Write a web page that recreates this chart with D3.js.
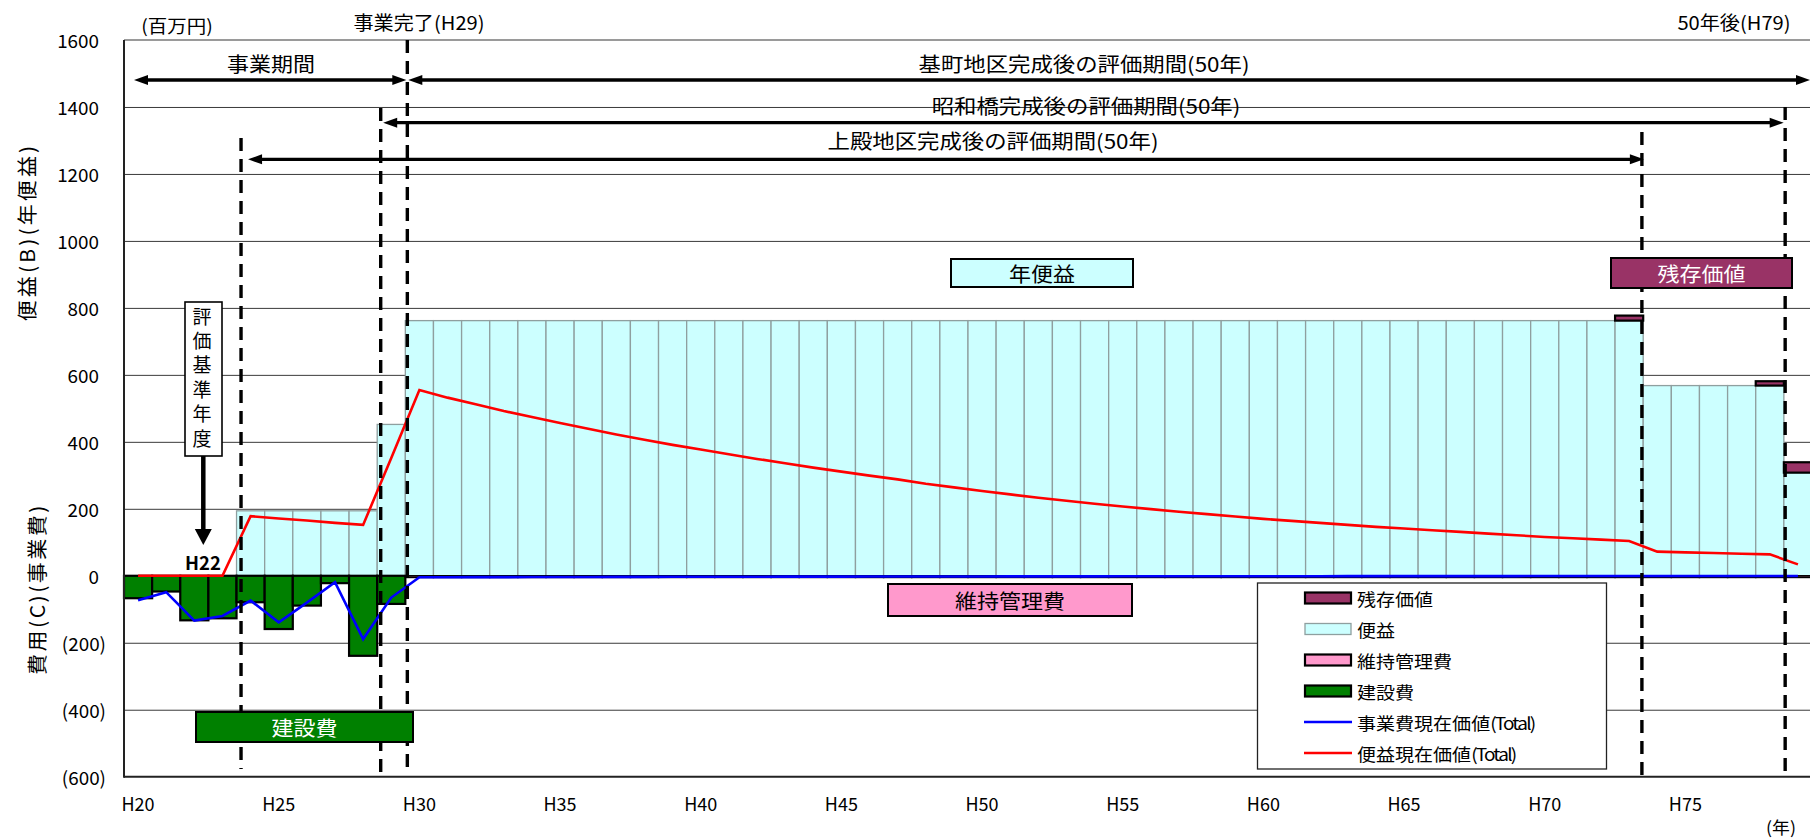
<!DOCTYPE html>
<html>
<head>
<meta charset="utf-8">
<script src="https://cdn.jsdelivr.net/npm/d3@7/dist/d3.min.js"></script>
<style>
  html, body { margin: 0; padding: 0; background: #fff; }
  svg { display: block; }
  text { font-family: "Noto Sans CJK JP", "Noto Sans", sans-serif; }
</style>
</head>
<body>
<svg id="chart" width="1810" height="838"></svg>
<script>
// ---- data (百万円) -------------------------------------------------------
const years = [
  "H20","H21","H22","H23","H24","H25","H26","H27","H28","H29",
  "H30","H31","H32","H33","H34","H35","H36","H37","H38","H39",
  "H40","H41","H42","H43","H44","H45","H46","H47","H48","H49",
  "H50","H51","H52","H53","H54","H55","H56","H57","H58","H59",
  "H60","H61","H62","H63","H64","H65","H66","H67","H68","H69",
  "H70","H71","H72","H73","H74","H75","H76","H77","H78","H79"
];

// 便益 (annual benefit)
const benefit = [
  0,0,0,0,194,194,194,194,194,452,
  762,762,762,762,762,762,762,762,762,762,
  762,762,762,762,762,762,762,762,762,762,
  762,762,762,762,762,762,762,762,762,762,
  762,762,762,762,762,762,762,762,762,762,
  762,762,762,762,568,568,568,568,568,308
];

// 残存価値 (residual value, stacked on the benefit)
const residual = [
  0,0,0,0,0,0,0,0,0,0,
  0,0,0,0,0,0,0,0,0,0,
  0,0,0,0,0,0,0,0,0,0,
  0,0,0,0,0,0,0,0,0,0,
  0,0,0,0,0,0,0,0,0,0,
  0,0,0,15,0,0,0,0,13,31
];

// 建設費 (construction cost)
const construction = [
  -67,-47,-133,-127,-79,-159,-89,-22,-239,-84,
  0,0,0,0,0,0,0,0,0,0,
  0,0,0,0,0,0,0,0,0,0,
  0,0,0,0,0,0,0,0,0,0,
  0,0,0,0,0,0,0,0,0,0,
  0,0,0,0,0,0,0,0,0,0
];

// 維持管理費 (maintenance cost)
const maintenance = [
  0,0,0,0,0,0,0,0,0,0,
  -5,-5,-5,-5,-5,-5,-5,-5,-5,-5,
  -5,-5,-5,-5,-5,-5,-5,-5,-5,-5,
  -5,-5,-5,-5,-5,-5,-5,-5,-5,-5,
  -5,-5,-5,-5,-5,-5,-5,-5,-5,-5,
  -5,-5,-5,-5,-5,-5,-5,-5,-5,-5
];

// 事業費現在価値 (Total)
const costPV = [
  -73,-49,-134,-120,-74,-139,-80,-19,-189,-65,
  -4.5,-4.3,-4.1,-4.0,-3.8,-3.7,-3.5,-3.4,-3.2,-3.1,
  -3.0,-2.9,-2.8,-2.6,-2.5,-2.4,-2.3,-2.2,-2.2,-2.1,
  -2.0,-1.9,-1.8,-1.7,-1.7,-1.6,-1.5,-1.5,-1.4,-1.4,
  -1.3,-1.2,-1.2,-1.1,-1.1,-1.0,-1.0,-0.9,-0.9,-0.9,
  -0.8,-0.8,-0.8,-0.7,-0.7,-0.7,-0.6,-0.6,-0.6,-0.6
];

// 便益現在価値 (Total)
const benefitPV = [
  0,0,0,0,178,171,165,158,152,352,
  555,532,512,492,474,456,439,422,406,391,
  377,363,349,336,323,311,299,288,275,264,
  253,243,233,224,215,207,199,191,184,177,
  170,164,158,152,146,141,136,131,126,121,
  116,112,108,104,72,70,68,66,64,34
];

const xTickLabels = ["H20","H25","H30","H35","H40","H45","H50","H55","H60","H65","H70","H75"];
const yTicks = [-600,-400,-200,0,200,400,600,800,1000,1200,1400,1600];

// ---- layout -------------------------------------------------------------
const svg = d3.select("#chart");
const pL = 124, pR = 1812, pT = 40, pB = 776.7;

const x = d3.scaleBand().domain(years).range([pL, pR]).padding(0);
const bw = x.bandwidth();
const cx = c => x(c) + bw / 2;
const y = d3.scaleLinear().domain([-600, 1600]).range([pB, pT]);

const rows = years.map((c, i) => ({
  c, benefit: benefit[i], residual: residual[i], construction: construction[i],
  maintenance: maintenance[i], costPV: costPV[i], benefitPV: benefitPV[i]
}));

// text helper: glyphs are drawn slightly wide, as in the original sheet;
// optional "tight" narrows the Latin runs such as "(Total)"
function txt(parent, px, py, s, o = {}) {
  const size = o.size || 19, sx = o.sx || 1.1, rot = o.rotate || 0;
  const t = parent.append("text")
    .attr("transform", `translate(${px},${py}) rotate(${rot}) scale(${sx},1)`)
    .attr("text-anchor", o.anchor || "middle")
    .attr("dominant-baseline", "central")
    .attr("fill", o.fill || "#000")
    .style("font-size", size + "px")
    .style("font-weight", o.weight || "normal");
  if (o.spacing) t.style("letter-spacing", o.spacing + "px");
  if (o.tight) {
    s.split(/([()A-Za-z0-9]+)/).filter(p => p.length).forEach(p => {
      const ts = t.append("tspan").text(p);
      if (/^[()A-Za-z0-9]+$/.test(p)) ts.style("letter-spacing", o.tight + "px");
    });
  } else {
    t.text(s);
  }
  return t;
}

// ---- gridlines ----------------------------------------------------------
const grid = svg.append("g")
  .attr("transform", `translate(${pL},0)`)
  .call(d3.axisLeft(y).tickValues(yTicks.filter(v => v > -600 && v < 1600))
    .tickSize(-(pR - pL)).tickFormat(""));
grid.select(".domain").remove();
grid.selectAll("line").attr("stroke", "#3a3a3a").attr("stroke-width", 1);

// ---- bars ---------------------------------------------------------------
const bars = svg.append("g");

bars.selectAll("rect.benefit").data(rows.filter(d => d.benefit > 0)).join("rect")
  .attr("class", "benefit")
  .attr("x", d => x(d.c)).attr("width", bw)
  .attr("y", d => y(d.benefit)).attr("height", d => y(0) - y(d.benefit))
  .attr("fill", "#CCFFFF").attr("stroke", "#8f9f9f").attr("stroke-width", 1.3);

bars.selectAll("rect.construction").data(rows.filter(d => d.construction < 0)).join("rect")
  .attr("class", "construction")
  .attr("x", d => x(d.c)).attr("width", bw)
  .attr("y", y(0)).attr("height", d => y(d.construction) - y(0))
  .attr("fill", "#008000").attr("stroke", "#000").attr("stroke-width", 2.2);

bars.selectAll("rect.maintenance").data(rows.filter(d => d.maintenance < 0)).join("rect")
  .attr("class", "maintenance")
  .attr("x", d => x(d.c)).attr("width", bw)
  .attr("y", d => y(d.construction))
  .attr("height", d => y(d.construction + d.maintenance) - y(d.construction))
  .attr("fill", "#FF99CC").attr("stroke", "#000").attr("stroke-width", 1.5);

bars.selectAll("rect.residual").data(rows.filter(d => d.residual > 0)).join("rect")
  .attr("class", "residual")
  .attr("x", d => x(d.c)).attr("width", bw)
  .attr("y", d => y(d.benefit + d.residual))
  .attr("height", d => y(d.benefit) - y(d.benefit + d.residual))
  .attr("fill", "#993366").attr("stroke", "#000").attr("stroke-width", 2.2);

// ---- present value lines -----------------------------------------------
const lineCost = d3.line().x(d => cx(d.c)).y(d => y(d.costPV));
const lineBen = d3.line().x(d => cx(d.c)).y(d => y(d.benefitPV));
svg.append("path").datum(rows).attr("d", lineCost)
  .attr("fill", "none").attr("stroke", "#0000FF").attr("stroke-width", 2.6);
svg.append("path").datum(rows).attr("d", lineBen)
  .attr("fill", "none").attr("stroke", "#FF0000").attr("stroke-width", 2.6);

// ---- frame --------------------------------------------------------------
svg.append("line").attr("x1", pL).attr("x2", 1810).attr("y1", pT).attr("y2", pT)
  .attr("stroke", "#9a9a9a").attr("stroke-width", 2);
svg.append("line").attr("x1", pL).attr("x2", 1810).attr("y1", pB).attr("y2", pB)
  .attr("stroke", "#222").attr("stroke-width", 2);
svg.append("line").attr("x1", pL).attr("x2", pL).attr("y1", pT).attr("y2", pB + 1)
  .attr("stroke", "#222").attr("stroke-width", 2);

// ---- axis labels ---------------------------------------------------------
const yl = svg.append("g");
yTicks.forEach(v => {
  const s = v < 0 ? "(" + Math.abs(v) + ")" : String(v);
  txt(yl, v < 0 ? 106 : 99, y(v), s, { size: 18.5, sx: 1.02, anchor: "end" });
});
const xl = svg.append("g");
xTickLabels.forEach(c => txt(xl, cx(c), 803, c, { size: 18, sx: 1.0 }));
txt(svg, 1781, 827, "(年)", { size: 17, sx: 1.05 });

txt(svg, 26, 232, "便益(B)(年便益)", { size: 20, sx: 1.05, rotate: -90, spacing: 3 });
txt(svg, 36, 589, "費用(C)(事業費)", { size: 20, sx: 1.05, rotate: -90, spacing: 2.4 });

txt(svg, 177, 25, "(百万円)", { size: 18, sx: 1.08 });
txt(svg, 419, 22, "事業完了(H29)", { size: 19, sx: 1.06 });
txt(svg, 1734, 22, "50年後(H79)", { size: 19, sx: 1.06 });

// ---- vertical period markers --------------------------------------------
const markers = [
  { at: "H24", dx: 4.5, y1: 138, y2: 769 },
  { at: "H29", dx: 3.5, y1: 108, y2: pB },
  { at: "H30", dx: 2, y1: pT, y2: 771 },
  { at: "H74", dx: -1.3, y1: 132, y2: pB },
  { at: "H79", dx: 1.3, y1: 107, y2: pB }
];
const mx = m => x(m.at) + m.dx;
svg.append("g").selectAll("line").data(markers).join("line")
  .attr("x1", mx).attr("x2", mx).attr("y1", d => d.y1).attr("y2", d => d.y2)
  .attr("stroke", "#000").attr("stroke-width", 3.4).attr("stroke-dasharray", "13,8");

// ---- period arrows --------------------------------------------------------
function arrow(x1, x2, yy, headL, headR) {
  const g = svg.append("g");
  const hl = 14, hw = 5;
  g.append("line").attr("x1", x1 + (headL ? hl - 1 : 0)).attr("x2", x2 - (headR ? hl - 1 : 0))
    .attr("y1", yy).attr("y2", yy).attr("stroke", "#000").attr("stroke-width", 3.3);
  if (headL) g.append("path").attr("d", `M${x1},${yy}L${x1 + hl},${yy - hw}L${x1 + hl},${yy + hw}Z`);
  if (headR) g.append("path").attr("d", `M${x2},${yy}L${x2 - hl},${yy - hw}L${x2 - hl},${yy + hw}Z`);
}
arrow(134, mx(markers[2]) - 1, 80, true, true);
arrow(mx(markers[2]) + 1, 1810, 80, true, true);
arrow(mx(markers[1]) + 2.5, mx(markers[4]) - 1.5, 122.7, true, true);
arrow(mx(markers[0]) + 7, mx(markers[3]) + 2, 159.3, true, true);

txt(svg, 271, 63, "事業期間", { size: 20, sx: 1.1 });
txt(svg, 1084, 63, "基町地区完成後の評価期間(50年)", { size: 20, sx: 1.12 });
txt(svg, 1086, 105, "昭和橋完成後の評価期間(50年)", { size: 20, sx: 1.12 });
txt(svg, 993, 140, "上殿地区完成後の評価期間(50年)", { size: 20, sx: 1.12 });

// ---- callout boxes --------------------------------------------------------
function box(x0, y0, w, h, fill, label, color, size) {
  svg.append("rect").attr("x", x0).attr("y", y0).attr("width", w).attr("height", h)
    .attr("fill", fill).attr("stroke", "#000").attr("stroke-width", 2);
  txt(svg, x0 + w / 2, y0 + h / 2, label, { size: size || 20, sx: 1.1, fill: color });
}
box(951, 259, 182, 28, "#CCFFFF", "年便益", "#000");
box(888, 584, 244, 32, "#FF99CC", "維持管理費", "#000");
box(196, 712, 217, 30, "#008000", "建設費", "#fff");
box(1611, 258, 181, 30, "#993366", "残存価値", "#fff");

// 評価基準年度 marker
svg.append("rect").attr("x", 185).attr("y", 302).attr("width", 37).attr("height", 154)
  .attr("fill", "#fff").attr("stroke", "#000").attr("stroke-width", 1.6);
"評価基準年度".split("").forEach((ch, i) => txt(svg, 202, 315 + i * 24.4, ch, { size: 19, sx: 1.0 }));
svg.append("line").attr("x1", 203.3).attr("x2", 203.3).attr("y1", 456).attr("y2", 532)
  .attr("stroke", "#000").attr("stroke-width", 4.5);
svg.append("path").attr("d", "M203.3,545L194.8,529L211.8,529Z");
txt(svg, 203, 562, "H22", { size: 18.5, sx: 1.0, weight: "bold" });

// ---- legend ---------------------------------------------------------------
const lg = svg.append("g");
lg.append("rect").attr("x", 1257.5).attr("y", 583).attr("width", 349).attr("height", 186)
  .attr("fill", "#fff").attr("stroke", "#222").attr("stroke-width", 1.3);
const legendItems = [
  { label: "残存価値", type: "rect", fill: "#993366", stroke: "#000", sw: 2.2 },
  { label: "便益", type: "rect", fill: "#CCFFFF", stroke: "#8f9f9f", sw: 1.3 },
  { label: "維持管理費", type: "rect", fill: "#FF99CC", stroke: "#000", sw: 2.2 },
  { label: "建設費", type: "rect", fill: "#008000", stroke: "#000", sw: 2.2 },
  { label: "事業費現在価値(Total)", type: "line", stroke: "#0000FF" },
  { label: "便益現在価値(Total)", type: "line", stroke: "#FF0000" }
];
legendItems.forEach((it, i) => {
  const ly = 598 + i * 31;
  if (it.type === "rect") {
    lg.append("rect").attr("x", 1305).attr("y", ly - 5.5).attr("width", 46).attr("height", 11)
      .attr("fill", it.fill).attr("stroke", it.stroke).attr("stroke-width", it.sw);
  } else {
    lg.append("line").attr("x1", 1304).attr("x2", 1352).attr("y1", ly).attr("y2", ly)
      .attr("stroke", it.stroke).attr("stroke-width", 2.4);
  }
  txt(lg, 1357, ly, it.label, { size: 17, sx: 1.12, anchor: "start", tight: -1.6 });
});
</script>
</body>
</html>
